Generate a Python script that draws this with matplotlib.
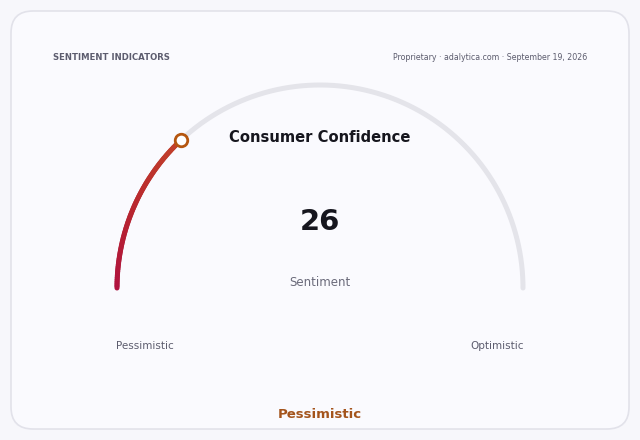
import numpy as np
import matplotlib.pyplot as plt
from matplotlib.patches import FancyBboxPatch
from matplotlib.colors import LinearSegmentedColormap

title = "Consumer Confidence"
value = 26
vmin, vmax = 0, 100
unit_label = "Sentiment"
low_label = "Pessimistic"
high_label = "Optimistic"
status = "Pessimistic"
header_left = "SENTIMENT INDICATORS"
header_right = "Proprietary · adalytica.com · September 19, 2026"

W, H = 640, 440
fig = plt.figure(figsize=(6.4, 4.4), dpi=100)
fig.patch.set_facecolor("#f7f7fb")
ax = fig.add_axes([0, 0, 1, 1])
ax.set_xlim(0, W)
ax.set_ylim(H, 0)
ax.axis("off")

card = FancyBboxPatch((11, 11), 618, 418, boxstyle="round,pad=0,rounding_size=22",
                      facecolor="#fafafe", edgecolor="#e2e2ea", linewidth=1.2)
ax.add_patch(card)

ax.text(53, 58, header_left, fontsize=6.1, fontweight="bold", color="#5c5c6e", va="center")
ax.text(587, 58, header_right, fontsize=5.7, color="#5c5c6e", va="center", ha="right")

# gauge
cx, cy, r = 320, 288, 203
t = np.linspace(np.pi, 0, 300)
ax.plot(cx + r * np.cos(t), cy - r * np.sin(t), color="#e4e4ea", lw=3.6,
        solid_capstyle="round", zorder=2)

frac = (value - vmin) / (vmax - vmin)
end = np.pi - frac * np.pi
tv = np.linspace(np.pi, end, 80)
cmap = LinearSegmentedColormap.from_list("g", ["#b0123f", "#b8262f", "#c2412a"])
xs, ys = cx + r * np.cos(tv), cy - r * np.sin(tv)
for i in range(len(tv) - 1):
    ax.plot(xs[i:i + 2], ys[i:i + 2], color=cmap(i / (len(tv) - 2)), lw=3.6,
            solid_capstyle="round", zorder=3)
ax.plot(xs[-1], ys[-1], "o", ms=9, mfc="white", mec="#b5560f", mew=2, zorder=4)

ax.text(cx, 137, title, fontsize=10.6, fontweight="bold", color="#16161e", ha="center", va="center")
ax.text(cx, 222, str(value), fontsize=21, fontweight="bold", color="#16161e", ha="center", va="center")
ax.text(cx, 282, unit_label, fontsize=8.5, color="#6a6a7a", ha="center", va="center")
ax.text(145, 346, low_label, fontsize=7.5, color="#5c5c6e", ha="center", va="center")
ax.text(497, 346, high_label, fontsize=7.5, color="#5c5c6e", ha="center", va="center")
ax.text(cx, 414, status, fontsize=9.5, fontweight="bold", color="#a4541c", ha="center", va="center")

fig.savefig("out.png", dpi=100, facecolor=fig.get_facecolor())
